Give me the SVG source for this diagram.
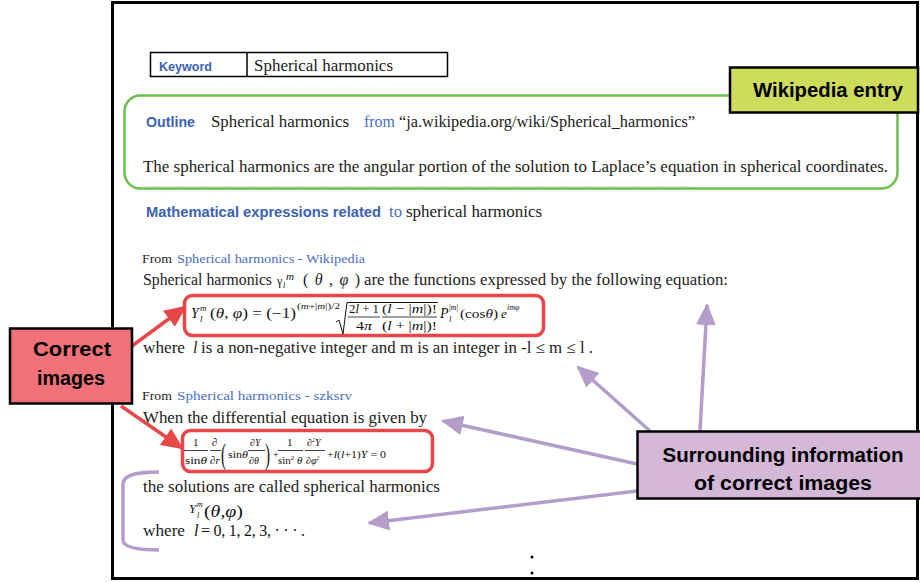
<svg xmlns="http://www.w3.org/2000/svg" width="920" height="582" viewBox="0 0 920 582">
<style>
.s{font-family:"Liberation Serif",serif;font-size:16px;fill:#222}
.sm{font-family:"Liberation Serif",serif;font-size:13px;fill:#222}
.b{font-family:"Liberation Sans",Arial,sans-serif;font-weight:bold;fill:#3b62b4}
.bl{fill:#4a6fc4}
.lab{font-family:"Liberation Sans",Arial,sans-serif;font-weight:bold;font-size:20px;fill:#000;text-anchor:middle}
.m{font-family:"Liberation Serif",serif;fill:#111}
.i{font-style:italic}
.fb{stroke:#111;stroke-width:0.8}
.red{stroke:#e8474a;stroke-width:3.5;fill:none}
.pur{stroke:#b49ccb;stroke-width:3.5;fill:none}
</style>
<defs>
<marker id="ar" markerUnits="userSpaceOnUse" markerWidth="22" markerHeight="20" viewBox="0 0 22 20" refX="20" refY="10" orient="auto"><path d="M0,0 L22,10 L0,20 Z" fill="#e8474a"/></marker>
<marker id="ap" markerUnits="userSpaceOnUse" markerWidth="22" markerHeight="20" viewBox="0 0 22 20" refX="20" refY="10" orient="auto"><path d="M0,0 L22,10 L0,20 Z" fill="#b49ccb"/></marker>
</defs>
<rect width="920" height="582" fill="#fff"/>
<rect id="frame" x="112.5" y="2.5" width="805" height="576" fill="none" stroke="#000" stroke-width="3"/>

<g id="keyword">
<rect x="150.5" y="52.5" width="297" height="24" fill="none" stroke="#000" stroke-width="1.5"/>
<line x1="247" y1="52.5" x2="247" y2="76.5" stroke="#000" stroke-width="1.5"/>
<text x="159" y="71" class="b" font-size="13" textLength="53" lengthAdjust="spacingAndGlyphs">Keyword</text>
<text x="254" y="71" class="s" textLength="139" lengthAdjust="spacingAndGlyphs">Spherical harmonics</text>
</g>

<g id="outline">
<rect x="124.5" y="95.5" width="773" height="93" rx="16" fill="none" stroke="#6cbf4c" stroke-width="2.5"/>
<line x1="143" y1="187" x2="695" y2="187" stroke="#b8c8b0" stroke-width="1" stroke-dasharray="2 1"/>
<text x="146" y="127" class="b" font-size="14" textLength="49" lengthAdjust="spacingAndGlyphs">Outline</text>
<text x="211" y="127" class="s" textLength="138" lengthAdjust="spacingAndGlyphs">Spherical harmonics</text>
<text x="364" y="127" class="s bl" textLength="31" lengthAdjust="spacingAndGlyphs">from</text>
<text x="399" y="127" class="s" textLength="296" lengthAdjust="spacingAndGlyphs">“ja.wikipedia.org/wiki/Spherical_harmonics”</text>
<text x="143" y="172" class="s" textLength="745" lengthAdjust="spacingAndGlyphs">The spherical harmonics are the angular portion of the solution to Laplace’s equation in spherical coordinates.</text>
</g>

<g id="math-heading">
<text x="146" y="217" class="b" font-size="14" textLength="235" lengthAdjust="spacingAndGlyphs">Mathematical expressions related</text>
<text x="389" y="217" class="s bl" textLength="13" lengthAdjust="spacingAndGlyphs">to</text>
<text x="406" y="217" class="s" textLength="136" lengthAdjust="spacingAndGlyphs">spherical harmonics</text>
</g>

<g id="source1">
<text x="142" y="263" class="sm" textLength="30" lengthAdjust="spacingAndGlyphs">From</text>
<text x="177" y="263" class="sm bl" textLength="188" lengthAdjust="spacingAndGlyphs">Spherical harmonics - Wikipedia</text>
<text x="143" y="285" class="s" textLength="129" lengthAdjust="spacingAndGlyphs">Spherical harmonics</text>
<text x="277" y="285" class="m" font-size="12" fill="#333">γ</text>
<text x="283" y="288" class="m i" font-size="8">l</text>
<text x="286" y="280" class="m i" font-size="11">m</text>
<text x="303" y="285" class="s" textLength="57">( <tspan class="i">θ</tspan> ,  <tspan class="i">φ</tspan> )</text>
<text x="364" y="285" class="s" textLength="364" lengthAdjust="spacingAndGlyphs">are the functions expressed by the following equation:</text>
</g>

<g id="formula1">
<rect x="184.5" y="295.5" width="359" height="40" rx="8" class="red"/>
<text x="191" y="318" class="m i" font-size="14">Y</text>
<text x="200" y="311" class="m i" font-size="9">m</text>
<text x="200" y="322" class="m i" font-size="9">l</text>
<text x="210" y="318" class="m" font-size="14" textLength="86" lengthAdjust="spacingAndGlyphs">(<tspan class="i">θ</tspan>, <tspan class="i">φ</tspan>) = (−1)</text>
<text x="297" y="309" class="m" font-size="9" textLength="43" lengthAdjust="spacingAndGlyphs">(<tspan class="i">m</tspan>+|<tspan class="i">m</tspan>|)/2</text>
<path d="M336,322 L339,320 L343,334 L347,302.5 L438,302.5" fill="none" stroke="#111" stroke-width="1"/>
<text x="349" y="313" class="m" font-size="13" textLength="30" lengthAdjust="spacingAndGlyphs">2<tspan class="i">l</tspan> + 1</text>
<line x1="348" y1="317" x2="380" y2="317" class="fb"/>
<text x="356" y="330" class="m" font-size="13" textLength="16" lengthAdjust="spacingAndGlyphs">4<tspan class="i">π</tspan></text>
<text x="382" y="313" class="m" font-size="13" textLength="55" lengthAdjust="spacingAndGlyphs">(<tspan class="i">l</tspan> − |<tspan class="i">m</tspan>|)!</text>
<line x1="382" y1="317" x2="437" y2="317" class="fb"/>
<text x="382" y="330" class="m" font-size="13" textLength="55" lengthAdjust="spacingAndGlyphs">(<tspan class="i">l</tspan> + |<tspan class="i">m</tspan>|)!</text>
<text x="440" y="318" class="m i" font-size="14">P</text>
<text x="449" y="310" class="m" font-size="8">|<tspan class="i">m</tspan>|</text>
<text x="449" y="322" class="m i" font-size="8">l</text>
<text x="460" y="318" class="m" font-size="13" textLength="38" lengthAdjust="spacingAndGlyphs">(cos<tspan class="i">θ</tspan>)</text>
<text x="501" y="318" class="m i" font-size="13">e</text>
<text x="507" y="310" class="m i" font-size="8">imφ</text>
</g>

<text x="143" y="353" class="s" textLength="42" lengthAdjust="spacingAndGlyphs">where</text>
<text x="193" y="353" class="s i">l</text>
<text x="201" y="353" class="s" textLength="392" lengthAdjust="spacingAndGlyphs">is a non-negative integer and m is an integer in -l ≤ m ≤ l .</text>

<g id="source2">
<text x="142" y="400" class="sm" textLength="30" lengthAdjust="spacingAndGlyphs">From</text>
<text x="177" y="400" class="sm bl" textLength="175" lengthAdjust="spacingAndGlyphs">Spherical harmonics - szksrv</text>
<text x="143" y="423" class="s" textLength="284" lengthAdjust="spacingAndGlyphs">When the differential equation is given by</text>
</g>

<g id="formula2">
<rect x="182.5" y="430.5" width="250" height="41" rx="8" class="red"/>
<text x="193" y="446" class="m" font-size="11">1</text>
<line x1="184" y1="450.5" x2="208" y2="450.5" class="fb"/>
<text x="185" y="464" class="m" font-size="11" textLength="22" lengthAdjust="spacingAndGlyphs">sin<tspan class="i">θ</tspan></text>
<text x="212" y="446" class="m i" font-size="11">∂</text>
<line x1="210" y1="450.5" x2="221" y2="450.5" class="fb"/>
<text x="210" y="464" class="m i" font-size="11">∂r</text>
<text x="221" y="464" class="m" font-size="30" transform="translate(221 464) scale(0.5 1) translate(-221 -464)">(</text>
<text x="228" y="458" class="m" font-size="11" textLength="20" lengthAdjust="spacingAndGlyphs">sin<tspan class="i">θ</tspan></text>
<text x="250" y="446" class="m i" font-size="10">∂Y</text>
<line x1="248" y1="450.5" x2="265" y2="450.5" class="fb"/>
<text x="249" y="464" class="m i" font-size="10">∂θ</text>
<text x="265" y="464" class="m" font-size="30" transform="translate(265 464) scale(0.5 1) translate(-265 -464)">)</text>
<text x="273" y="458" class="m" font-size="10">+</text>
<text x="287" y="446" class="m" font-size="11">1</text>
<line x1="278" y1="450.5" x2="303" y2="450.5" class="fb"/>
<text x="278" y="464" class="m" font-size="11">sin<tspan font-size="7" dy="-4">2</tspan><tspan class="i" dy="4"> θ</tspan></text>
<text x="307" y="446" class="m i" font-size="10">∂<tspan font-size="6" dy="-4">2</tspan><tspan dy="4">Y</tspan></text>
<line x1="305" y1="450.5" x2="325" y2="450.5" class="fb"/>
<text x="306" y="464" class="m i" font-size="10">∂φ<tspan font-size="6" dy="-4">2</tspan></text>
<text x="327" y="458" class="m" font-size="11" textLength="59" lengthAdjust="spacingAndGlyphs">+<tspan class="i">l</tspan>(<tspan class="i">l</tspan>+1)<tspan class="i">Y</tspan> = 0</text>
</g>

<g id="surrounding-text">
<path d="M159,472 C140,472 123,474 123,484 L123,540 C123,548 140,550 159,550" class="pur" stroke-width="2.5"/>
<text x="143" y="492" class="s" textLength="297" lengthAdjust="spacingAndGlyphs">the solutions are called spherical harmonics</text>
<text x="189" y="513" class="m i" font-size="13">Y</text>
<text x="197" y="507" class="m i" font-size="8">m</text>
<text x="197" y="518" class="m i" font-size="8">l</text>
<text x="204" y="517" class="m" font-size="17" textLength="39" lengthAdjust="spacingAndGlyphs">(<tspan class="i">θ</tspan>,<tspan class="i">φ</tspan>)</text>
<text x="143" y="536" class="s" textLength="42" lengthAdjust="spacingAndGlyphs">where</text>
<text x="194" y="536" class="m i" font-size="16">l</text>
<text x="201" y="536" class="m" font-size="16" textLength="104">= 0, 1, 2, 3, · · · .</text>
<circle cx="532" cy="557" r="1.5" fill="#000"/>
<circle cx="532" cy="573" r="1.5" fill="#000"/>
</g>

<g id="connectors">
<line x1="132" y1="346" x2="185" y2="307" class="red" marker-end="url(#ar)"/>
<line x1="121" y1="406" x2="182" y2="448" class="red" marker-end="url(#ar)"/>
<line x1="700" y1="431" x2="707" y2="305" class="pur" marker-end="url(#ap)"/>
<line x1="650" y1="431" x2="578" y2="367" class="pur" marker-end="url(#ap)"/>
<line x1="637" y1="464" x2="443" y2="421" class="pur" marker-end="url(#ap)"/>
<line x1="637" y1="491" x2="369" y2="523" class="pur" marker-end="url(#ap)"/>
</g>

<g id="wikipedia-entry">
<rect x="730" y="67.5" width="188" height="45" fill="#cddc5a" stroke="#000" stroke-width="2.5"/>
<text x="828" y="97" class="lab" textLength="150" lengthAdjust="spacingAndGlyphs">Wikipedia entry</text>
</g>
<g id="correct-images">
<rect x="10" y="328.5" width="122" height="75" fill="#f07278" stroke="#000" stroke-width="2.5"/>
<text x="72" y="356" class="lab" textLength="78" lengthAdjust="spacingAndGlyphs">Correct</text>
<text x="71" y="385" class="lab" textLength="68" lengthAdjust="spacingAndGlyphs">images</text>
</g>
<g id="surrounding-info">
<rect x="637.5" y="431.5" width="285" height="67" fill="#d5b8d7" stroke="#000" stroke-width="2.5"/>
<text x="783" y="462" class="lab" textLength="241" lengthAdjust="spacingAndGlyphs">Surrounding information</text>
<text x="783" y="490" class="lab" textLength="178" lengthAdjust="spacingAndGlyphs">of correct images</text>
</g>
</svg>
